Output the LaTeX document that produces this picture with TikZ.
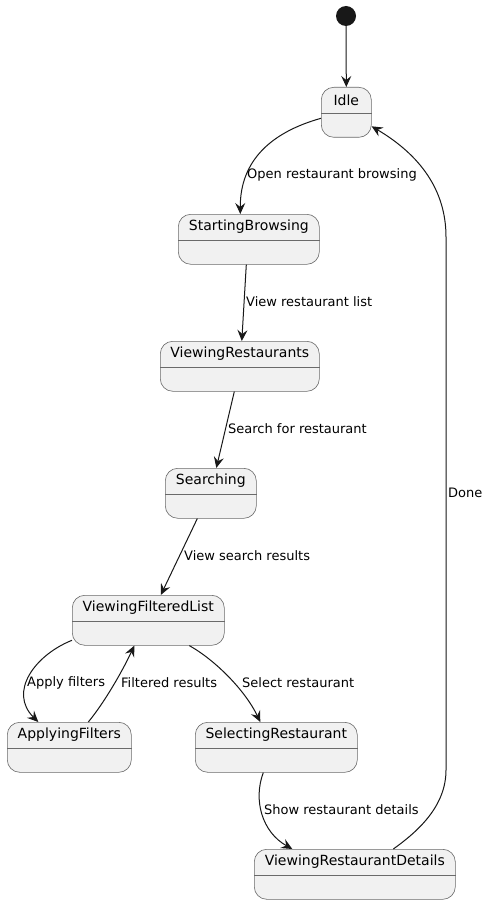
\documentclass[tikz,border=0pt]{standalone}
\usepackage{fontspec}
\setmainfont{DejaVu Sans}
\usetikzlibrary{arrows.meta}
\definecolor{stfill}{HTML}{F1F1F1}
\definecolor{stline}{HTML}{181818}
\definecolor{stborder}{HTML}{6A6A6A}
\newcommand{\stnode}[5]{%
  \node[stbox, minimum width=#4pt, anchor=north west] (#1) at (#2,#3) {};
  \draw[divline] ([yshift=-26pt]#1.north west) -- ([yshift=-26pt]#1.north east);
  \node[stname] (#1-t) at ([yshift=-13pt]#1.north) {#5};
}
\tikzset{
  stbox/.style={draw=stborder, line width=0.6pt, fill=stfill, rounded corners=12.5pt, minimum height=50pt, inner sep=0pt},
  divline/.style={draw=stborder, line width=0.6pt},
  stname/.style={font=\fontsize{14pt}{16pt}\selectfont, inner sep=0pt, text=black},
  lbl/.style={font=\fontsize{13pt}{15pt}\selectfont, inner sep=0pt, anchor=west, text=black},
  arr/.style={draw=stline, line width=1pt, -{Stealth[length=11pt,width=10pt,inset=4pt]}},
}
\begin{document}
\begin{tikzpicture}[x=1pt,y=1pt]
\useasboundingbox[fill=white] (0,0) rectangle (487,-904);
\node[circle, fill=stline, minimum size=20pt, inner sep=0pt] (start) at (346,-16) {};
\stnode{idle}{321}{-87}{50}{Idle}
\stnode{sb}{178}{-214}{141}{StartingBrowsing}
\stnode{vr}{160}{-341}{159}{ViewingRestaurants}
\stnode{srch}{165}{-468}{91}{Searching}
\stnode{vfl}{72}{-595}{152}{ViewingFilteredList}
\stnode{af}{7}{-722}{124}{ApplyingFilters}
\stnode{sr}{195}{-722}{162}{SelectingRestaurant}
\stnode{vrd}{254}{-849}{201}{ViewingRestaurantDetails}

\draw[arr] (start) -- (idle.north);
\draw[arr] ([yshift=-6pt]idle.west) .. controls (272,-132) and (240,-160) .. ([xshift=-8.5pt]sb.north);
\node[lbl] (l1) at (247,-175) {Open restaurant browsing};
\draw[arr] ([xshift=-2.5pt]sb.south) -- ([xshift=2pt]vr.north);
\node[lbl] (l2) at (246,-302) {View restaurant list};
\draw[arr] ([xshift=-5.5pt]vr.south) -- ([xshift=5.5pt]srch.north);
\node[lbl] (l3) at (228,-429) {Search for restaurant};
\draw[arr] ([xshift=-13.5pt]srch.south) -- ([xshift=12.5pt]vfl.north);
\node[lbl] (l4) at (184,-556) {View search results};
\draw[arr] ([yshift=-20pt]vfl.west) .. controls (35,-655) and (8,-692) .. ([xshift=-31pt]af.north);
\node[lbl] (l5) at (27,-683) {Apply filters};
\draw[arr] ([xshift=19pt]af.north) .. controls (104,-703) and (122,-672) .. ([xshift=-14pt]vfl.south);
\node[lbl] (l6) at (121,-683) {Filtered results};
\draw[arr] ([xshift=41pt]vfl.south) .. controls (215,-660) and (245,-690) .. ([xshift=-16pt]sr.north);
\node[lbl] (l7) at (242,-683) {Select restaurant};
\draw[arr] ([xshift=-13pt]sr.south) .. controls (253,-800) and (262,-832) .. ([xshift=-62.5pt]vrd.north);
\node[lbl] (l8) at (264,-810) {Show restaurant details};
\draw[arr] ([xshift=38.5pt]vrd.north) .. controls (420,-830) and (446,-805) .. (446,-770) -- (446,-237) .. controls (446,-190) and (420,-155) .. ([yshift=-14pt]idle.east);
\node[lbl] (l9) at (448,-493) {Done};
\end{tikzpicture}
\end{document}
